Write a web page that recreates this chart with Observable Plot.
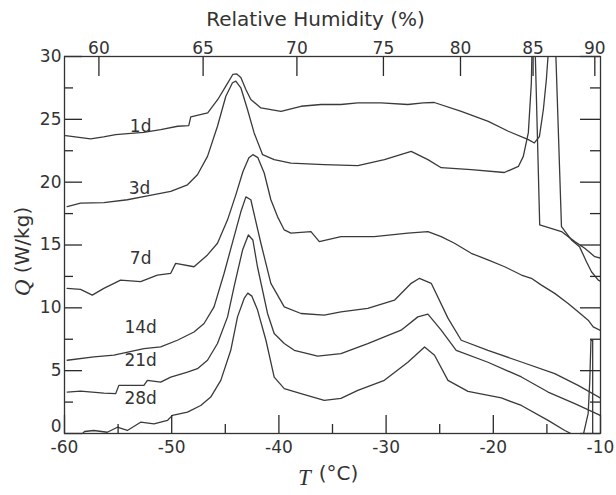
<!DOCTYPE html>
<html><head><meta charset="utf-8">
<script src="https://cdn.jsdelivr.net/npm/d3@7"></script>
<script src="https://cdn.jsdelivr.net/npm/@observablehq/plot@0.6"></script>
<style>body{margin:0;background:#fff} svg{display:block}</style>
</head><body><div id="chart"></div>
<script>
// Heat flow Q (W/kg) versus temperature T (°C), pairs [T, Q]
const seriesNames = ["1d", "3d", "7d", "14d", "21d", "28d"];
const d1 = [[-59.90,23.70],[-57.57,23.44],[-56.36,23.60],[-55.23,23.78],[-54.11,23.86],[-52.62,23.97],[-51.03,24.18],[-49.44,24.45],[-48.41,24.50],[-48.22,25.20],[-46.64,25.51],[-45.70,26.58],[-44.95,27.64],[-44.30,28.57],[-43.93,28.61],[-43.55,28.33],[-43.08,27.37],[-42.62,26.58],[-41.68,25.91],[-39.81,25.64],[-37.94,26.04],[-36.07,26.18],[-34.21,26.18],[-32.64,26.31],[-30.47,26.31],[-27.97,26.18],[-26.54,26.31],[-25.51,26.34],[-22.99,25.64],[-20.47,24.84],[-18.60,24.05],[-16.73,23.38],[-16.17,23.12],[-15.70,23.62],[-15.33,25.78],[-15.05,28.17],[-14.39,36.00],[-13.64,16.46],[-12.71,15.40],[-11.96,14.87],[-11.31,13.67],[-10.84,12.87],[-10.21,12.21],[-9.91,12.07]];
const d3 = [[-59.75,18.06],[-58.50,18.33],[-56.33,18.38],[-54.14,18.60],[-52.27,18.91],[-50.09,19.26],[-48.53,19.79],[-47.60,20.59],[-46.66,22.05],[-45.73,24.45],[-44.95,26.84],[-44.33,27.91],[-44.02,28.04],[-43.55,27.51],[-42.93,25.78],[-42.31,23.92],[-41.52,22.19],[-40.44,21.79],[-38.88,21.52],[-35.77,21.39],[-32.64,21.31],[-30.16,21.79],[-27.66,22.45],[-26.10,21.79],[-24.86,21.15],[-22.06,20.99],[-18.97,20.77],[-17.66,21.25],[-17.20,22.05],[-16.73,23.94],[-16.45,27.91],[-16.26,36.00],[-15.67,16.60],[-13.64,16.07],[-12.40,15.27],[-11.47,14.74],[-10.53,14.07],[-9.91,13.94]];
const d7 = [[-59.75,11.55],[-58.50,11.47],[-57.41,11.01],[-56.33,11.55],[-54.77,12.21],[-52.90,12.08],[-51.34,12.61],[-50.09,12.75],[-49.63,13.54],[-47.92,13.27],[-46.66,14.21],[-45.73,15.14],[-44.79,17.00],[-44.02,18.99],[-43.36,20.83],[-42.80,21.95],[-42.43,22.19],[-41.96,21.95],[-41.37,20.73],[-40.75,18.60],[-40.13,17.26],[-39.50,16.20],[-38.88,15.94],[-37.01,16.07],[-36.23,15.27],[-34.21,15.67],[-31.10,15.67],[-27.97,15.94],[-26.10,16.07],[-24.86,15.67],[-23.62,15.14],[-22.06,14.34],[-20.50,13.81],[-18.94,13.27],[-17.38,12.61],[-16.45,12.35],[-15.51,11.81],[-14.27,11.15],[-13.02,10.35],[-12.09,9.68],[-11.15,9.02],[-10.68,8.48],[-10.06,8.22]];
const d14 = [[-59.75,5.83],[-57.26,6.09],[-55.39,6.23],[-52.59,6.76],[-51.03,6.89],[-49.47,7.42],[-47.92,8.08],[-46.98,8.75],[-46.05,10.08],[-45.11,12.75],[-44.18,15.67],[-43.55,17.64],[-43.08,18.83],[-42.62,18.60],[-41.68,15.14],[-40.75,11.95],[-39.50,10.08],[-37.94,9.55],[-35.77,9.42],[-34.21,9.68],[-31.71,9.95],[-29.22,10.61],[-27.66,11.95],[-26.89,12.35],[-25.79,11.95],[-24.23,9.18],[-22.99,7.42],[-20.50,6.62],[-17.38,5.69],[-14.27,4.76],[-12.09,3.83],[-9.91,2.77]];
const d21 = [[-59.75,3.30],[-58.50,3.38],[-56.33,3.22],[-55.23,3.17],[-54.93,3.83],[-52.59,3.83],[-52.27,4.23],[-51.03,4.09],[-50.09,4.49],[-48.53,4.89],[-47.60,5.16],[-46.66,5.83],[-45.73,7.16],[-44.79,9.28],[-44.18,11.68],[-43.39,14.60],[-42.85,15.80],[-42.43,15.40],[-42.00,13.27],[-41.06,9.55],[-40.44,7.96],[-39.50,7.16],[-38.57,6.62],[-37.32,6.36],[-36.39,6.15],[-34.21,6.36],[-31.71,7.16],[-30.16,7.69],[-28.60,8.22],[-27.04,9.28],[-26.10,9.50],[-24.86,8.22],[-23.46,6.62],[-20.50,5.67],[-17.38,4.50],[-14.89,3.30],[-12.40,2.37],[-9.91,1.40]];
const d28 = [[-58.69,-0.32],[-58.13,0.16],[-57.26,0.24],[-56.01,0.10],[-55.07,0.50],[-54.14,0.24],[-52.90,0.90],[-51.65,0.77],[-50.40,1.04],[-49.93,1.44],[-48.53,1.70],[-47.29,2.23],[-46.36,2.90],[-45.42,4.23],[-44.49,6.62],[-43.86,9.28],[-43.24,10.75],[-42.90,11.17],[-42.52,10.93],[-41.99,9.82],[-41.21,7.42],[-40.44,4.49],[-39.50,3.57],[-37.94,3.17],[-35.77,2.63],[-34.21,2.79],[-32.64,3.43],[-30.16,4.23],[-27.97,5.67],[-26.41,6.89],[-25.48,6.23],[-24.23,4.23],[-22.36,3.35],[-19.25,2.83],[-17.38,2.23],[-14.89,1.04],[-13.33,0.24],[-12.40,-0.16],[-11.62,-0.16],[-11.15,1.60],[-11.00,4.20],[-10.89,7.42],[-10.73,7.42],[-10.73,-0.56]];

// curve labels
const labelNames = ["1d", "3d", "7d", "14d", "21d", "28d"];
const labelT = [-52.9, -53.0, -52.9, -52.9, -52.9, -52.9];
const labelQ = [24.4, 19.5, 13.9, 8.4, 5.8, 2.8];

// axes
const xTicks = [-60, -50, -40, -30, -20, -10];
const xTickLabels = ["-60", "-50", "-40", "-30", "-20", "-10"];
const xMinor = [-55, -45, -35, -25, -15];
const yTicks = [0, 5, 10, 15, 20, 25, 30];
const yMinor = [2.5, 7.5, 12.5, 17.5, 22.5, 27.5];
const rhLabels = ["60", "65", "70", "75", "80", "85", "90"];
const rhT = [-56.79, -47.07, -38.32, -30.25, -23.06, -16.29, -10.53];

const rows = [];
[d1, d3, d7, d14, d21, d28].forEach((arr, i) =>
  arr.forEach(([T, Q]) => rows.push({series: seriesNames[i], T, Q})));
const labels = labelNames.map((name, i) => ({name, T: labelT[i], Q: labelQ[i]}));

const W = 616, H = 495, mL = 64, mR = 16, mT = 56, mB = 62;
const fw = W - mL - mR, fh = H - mT - mB;
const ink = "#333";
const sans = "DejaVu Sans";
const serif = "Liberation Serif";

// inward ticks: tick marks inset so that only a short piece at the frame edge remains
const tickStyle = {stroke: "#2a2a2a", strokeWidth: 1.3};
const ticksBottom = (data, len) => Plot.tickX(data, {x: d => d, insetTop: fh - len, ...tickStyle});
const ticksTop = (data, len) => Plot.tickX(data, {x: d => d, insetBottom: fh - len, ...tickStyle});
const ticksLeft = (data, len) => Plot.tickY(data, {y: d => d, insetRight: fw - len, ...tickStyle});
const ticksRight = (data, len) => Plot.tickY(data, {y: d => d, insetLeft: fw - len, ...tickStyle});

const chart = Plot.plot({
  width: W,
  height: H,
  marginLeft: mL,
  marginRight: mR,
  marginTop: mT,
  marginBottom: mB,
  style: {fontFamily: sans, fontSize: "17px", color: ink, background: "#fff"},
  x: {domain: [-60, -10]},
  y: {domain: [0, 30]},
  marks: [
    Plot.line(rows, {x: "T", y: "Q", z: "series", stroke: "#3a3a3a", strokeWidth: 1.3, clip: true}),
    ticksBottom(xTicks, 18),
    ticksBottom(xMinor, 9),
    ticksTop(rhT, 20),
    ticksLeft(yTicks, 18),
    ticksLeft(yMinor, 9),
    ticksRight(yTicks, 20),
    ticksRight(yMinor, 10),
    Plot.frame({stroke: ink, strokeWidth: 1.3}),
    // tick labels
    Plot.axisX({anchor: "bottom", ticks: xTicks, tickSize: 0, tickPadding: 7, label: null,
      tickFormat: d => xTickLabels[xTicks.indexOf(d)], fontSize: 17}),
    Plot.axisX({anchor: "top", ticks: rhT, tickSize: 0, tickPadding: 3, label: null,
      tickFormat: d => rhLabels[rhT.indexOf(d)], fontSize: 17}),
    Plot.axisY({anchor: "left", ticks: yTicks.slice(1), tickSize: 0, tickPadding: 3, label: null, fontSize: 17}),
    Plot.axisY({anchor: "left", ticks: [0], tickSize: 0, tickPadding: 3, dy: -7, label: null, fontSize: 17}),
    // curve labels
    Plot.text(labels, {x: "T", y: "Q", text: "name", fontSize: 17, fill: ink}),
    // titles
    Plot.text(["Relative Humidity (%)"], {frameAnchor: "top", textAnchor: "middle", lineAnchor: "middle", dx: -17, dy: -37, fontSize: 20, fill: ink}),
    Plot.text(["T"], {frameAnchor: "bottom", textAnchor: "middle", lineAnchor: "middle", dx: -28, dy: 44, fontFamily: serif, fontStyle: "italic", fontSize: 23, fill: ink}),
    Plot.text(["(°C)"], {frameAnchor: "bottom", textAnchor: "middle", lineAnchor: "middle", dx: 6, dy: 40, fontSize: 20, fill: ink}),
    Plot.text(["Q"], {frameAnchor: "left", textAnchor: "middle", lineAnchor: "middle", rotate: -90, dx: -42, dy: 43, fontFamily: serif, fontStyle: "italic", fontSize: 23, fill: ink}),
    Plot.text(["(W/kg)"], {frameAnchor: "left", textAnchor: "middle", lineAnchor: "middle", rotate: -90, dx: -42, dy: -5, fontSize: 20, fill: ink})
  ]
});
document.getElementById("chart").appendChild(chart);
</script>
</body></html>
